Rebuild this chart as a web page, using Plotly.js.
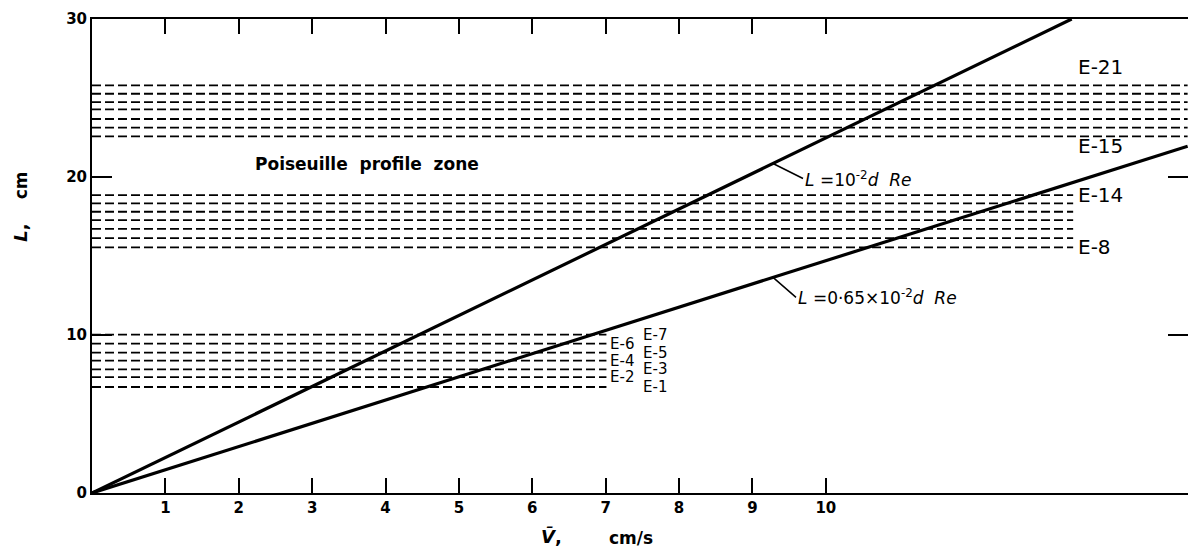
<!DOCTYPE html>
<html>
<head>
<meta charset="utf-8">
<script src="https://cdn.plot.ly/plotly-3.0.1.min.js"></script>
<style>html,body{margin:0;padding:0;background:#fff;}#chart{width:1188px;height:547px;}</style>
</head>
<body>
<div id="chart"></div>
<script>
// ---- data ----
// Entrance-length lines L = 10^-2 d Re and L = 0.65x10^-2 d Re (V in cm/s, L in cm)
const lineFullV = [0, 13.35];
const lineFullL = [0, 30];
const lineLowV = [0, 14.93];
const lineLowL = [0, 21.95];

// Test-section lengths (dashed), by experiment group
const groupALabels = ["E-1", "E-2", "E-3", "E-4", "E-5", "E-6", "E-7"];
const groupALevels = [6.71, 7.33, 7.83, 8.38, 8.89, 9.46, 10.03];
const groupAEnd = 7.01;

const groupBLabels = ["E-8", "E-9", "E-10", "E-11", "E-12", "E-13", "E-14"];
const groupBLevels = [15.54, 16.13, 16.72, 17.27, 17.80, 18.33, 18.85];
const groupBEnd = 13.37;

const groupCLabels = ["E-15", "E-16", "E-17", "E-18", "E-19", "E-20", "E-21"];
const groupCLevels = [22.57, 23.12, 23.67, 24.28, 24.74, 25.27, 25.80];
const groupCEnd = 14.93;

const xTickVals = [1, 2, 3, 4, 5, 6, 7, 8, 9, 10];
const xTickText = ["1", "2", "3", "4", "5", "6", "7", "8", "9", "10"];
const yTickVals = [0, 10, 20, 30];
const yTickText = ["0", "10", "20", "30"];

// ---- build traces ----
const traces = [];
const dashStyle = {color: "#000", width: 1.8, dash: "9px,4px"};
function addGroup(labels, levels, end) {
  levels.forEach((lv, i) => {
    traces.push({x: [0, end], y: [lv, lv], mode: "lines", name: labels[i],
      line: dashStyle, hoverinfo: "skip"});
  });
}
addGroup(groupALabels, groupALevels, groupAEnd);
addGroup(groupBLabels, groupBLevels, groupBEnd);
addGroup(groupCLabels, groupCLevels, groupCEnd);

traces.push({x: lineFullV, y: lineFullL, mode: "lines", name: "L = 10^-2 d Re",
  line: {color: "#000", width: 3.2}});
traces.push({x: lineLowV, y: lineLowL, mode: "lines", name: "L = 0.65x10^-2 d Re",
  line: {color: "#000", width: 3.2}});

function onLine(vx, vy, v) { return vy[0] + (vy[1] - vy[0]) * (v - vx[0]) / (vx[1] - vx[0]); }

const F = "DejaVu Sans, Liberation Sans, Arial, sans-serif";
const annotations = [];

// group A labels, alternating columns
groupALabels.forEach((lab, i) => {
  annotations.push({x: groupAEnd, y: groupALevels[i], xref: "x", yref: "y", text: lab,
    showarrow: false, xanchor: "left", yanchor: "middle", xshift: (i % 2 === 1) ? 2 : 35,
    font: {family: F, size: 15, color: "#000"}});
});
// group B labels (first and last)
[0, groupBLabels.length - 1].forEach(i => {
  annotations.push({x: groupBEnd, y: groupBLevels[i], xref: "x", yref: "y", text: groupBLabels[i],
    showarrow: false, xanchor: "left", yanchor: "middle", xshift: 3,
    font: {family: F, size: 20, color: "#000"}});
});
// group C labels (first below, last above)
annotations.push({x: groupBEnd, y: groupCLevels[0], xref: "x", yref: "y", text: groupCLabels[0],
  showarrow: false, xanchor: "left", yanchor: "middle", xshift: 3, yshift: -10,
  font: {family: F, size: 20, color: "#000"}});
annotations.push({x: groupBEnd, y: groupCLevels[groupCLevels.length - 1], xref: "x", yref: "y",
  text: groupCLabels[groupCLabels.length - 1],
  showarrow: false, xanchor: "left", yanchor: "middle", xshift: 3, yshift: 18,
  font: {family: F, size: 20, color: "#000"}});

// zone label
annotations.push({x: 2.2, y: 20.8, xref: "x", yref: "y", text: "Poiseuille  profile  zone",
  showarrow: false, xanchor: "left", yanchor: "middle",
  font: {family: F, size: 17, color: "#000", weight: "bold"}});

// line labels with leaders
const vLead = 9.28;
annotations.push({x: vLead, y: onLine(lineFullV, lineFullL, vLead), xref: "x", yref: "y",
  text: "<i>L</i> =10<sup>-2</sup><i>d  Re</i>", showarrow: true, arrowhead: 0, arrowwidth: 1.5,
  arrowcolor: "#000", ax: 30, ay: 15, xanchor: "left", yanchor: "middle",
  font: {family: F, size: 17, color: "#000"}});
annotations.push({x: vLead, y: onLine(lineLowV, lineLowL, vLead), xref: "x", yref: "y",
  text: "<i>L</i> =0·65×10<sup>-2</sup><i>d  Re</i>", showarrow: true, arrowhead: 0, arrowwidth: 1.5,
  arrowcolor: "#000", ax: 23, ay: 20, xanchor: "left", yanchor: "middle",
  font: {family: F, size: 17, color: "#000"}});

// axis titles
annotations.push({x: 6.26, y: -0.092, xref: "x", yref: "paper", text: "<b><i>V̄</i>,</b>",
  showarrow: false, xanchor: "center", yanchor: "middle", font: {family: F, size: 18, color: "#000"}});
annotations.push({x: 7.35, y: -0.095, xref: "x", yref: "paper", text: "<b>cm/s</b>",
  showarrow: false, xanchor: "center", yanchor: "middle", font: {family: F, size: 17, color: "#000"}});
annotations.push({x: -0.0653, y: 16.5, xref: "paper", yref: "y", text: "<b><i>L</i>,</b>", textangle: -90,
  showarrow: false, xanchor: "center", yanchor: "middle", font: {family: F, size: 18, color: "#000"}});
annotations.push({x: -0.0653, y: 19.5, xref: "paper", yref: "y", text: "<b>cm</b>", textangle: -90,
  showarrow: false, xanchor: "center", yanchor: "middle", font: {family: F, size: 17, color: "#000"}});

const layout = {
  width: 1188, height: 547,
  margin: {l: 92, r: 0, t: 19, b: 54, pad: 0},
  paper_bgcolor: "#fff", plot_bgcolor: "#fff",
  showlegend: false, hovermode: false,
  xaxis: {range: [0, 14.935], tickvals: xTickVals, ticktext: xTickText,
    ticks: "inside", ticklen: 15, tickwidth: 2, tickcolor: "#000",
    showline: true, linewidth: 2, linecolor: "#000", mirror: "ticks",
    showgrid: false, zeroline: false,
    tickfont: {family: F, size: 15, color: "#000", weight: "bold"}},
  yaxis: {range: [0, 30], tickvals: yTickVals, ticktext: yTickText,
    ticks: "inside", ticklen: 20, tickwidth: 2, tickcolor: "#000",
    showline: true, linewidth: 2, linecolor: "#000", mirror: "ticks",
    showgrid: false, zeroline: false, ticklabelstandoff: 0,
    tickfont: {family: F, size: 15, color: "#000", weight: "bold"}},
  annotations: annotations
};

Plotly.newPlot("chart", traces, layout, {staticPlot: true, displayModeBar: false});
</script>
</body>
</html>
